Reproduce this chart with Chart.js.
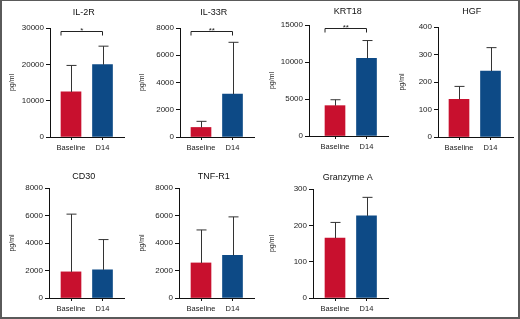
<!DOCTYPE html>
<html>
<head>
<meta charset="utf-8">
<script src="https://cdn.jsdelivr.net/npm/chart.js@4"></script>
<style>
    body { margin: 0; background: #fff; }
    #fig { position: relative; width: 520px; height: 319px; overflow: hidden; background: #fff; }
    #fig canvas { position: absolute; }
    #frame { position: absolute; left: 0; top: 0; width: 520px; height: 319px; box-sizing: border-box;
             border: 2px solid #5a5a5a; border-top-width: 1px; pointer-events: none; }
</style>
</head>
<body>
<div id="fig"><div id="frame"></div></div>
<script>
// ---- data ----
const categories = ['Baseline', 'D14'];
const markers = ['IL-2R', 'IL-33R', 'KRT18', 'HGF', 'CD30', 'TNF-R1', 'Granzyme A'];
const baselineMean = [12400, 700, 4100, 137, 1900, 2550, 165];
const d14Mean = [19900, 3150, 10500, 240, 2050, 3100, 226];
const baselineSd = [7300, 450, 800, 47, 4200, 2400, 43];
const d14Sd = [5100, 3800, 2400, 85, 2200, 2800, 51];
const yMax = [30000, 8000, 15000, 400, 8000, 8000, 300];
const yStep = [10000, 2000, 5000, 100, 2000, 2000, 100];
const signif = ['*', '**', '**', '', '', '', ''];

// panel layout (canvas position + plot box inside the canvas)
const panels = [
    { x: 0,   y: 0,   h: 160, left: 50, right: 124, top: 28, bottom: 137, bar0: 71, titleY: 13 },
    { x: 130, y: 0,   h: 160, left: 50, right: 124, top: 28, bottom: 137, bar0: 71, titleY: 13 },
    { x: 260, y: 0,   h: 160, left: 49, right: 128, top: 25, bottom: 136, bar0: 75, titleY: 12 },
    { x: 390, y: 0,   h: 160, left: 48, right: 123, top: 27, bottom: 137, bar0: 69, titleY: 12 },
    { x: 0,   y: 160, h: 159, left: 49, right: 124, top: 28, bottom: 138, bar0: 71, titleY: 17 },
    { x: 130, y: 160, h: 159, left: 49, right: 124, top: 28, bottom: 138, bar0: 71, titleY: 17 },
    { x: 260, y: 160, h: 159, left: 53, right: 128, top: 29, bottom: 138, bar0: 75, titleY: 18 },
];
const BAR_GAP = 31.5;
const colors = ['#c8102e', '#0d4a86'];
const FONT = "'Liberation Sans', Arial, sans-serif";

Chart.defaults.font.family = FONT;
Chart.defaults.color = '#222';

// whiskers (upper SD only) + significance bracket + panel title
const panelDecor = {
    id: 'panelDecor',
    afterDatasetsDraw(chart, args, opts) {
        const { ctx, chartArea } = chart;
        const y = chart.scales.y;
        const bars = chart.getDatasetMeta(0).data;
        ctx.save();
        ctx.strokeStyle = '#333';
        ctx.lineWidth = 1;
        bars.forEach((bar, i) => {
            const top = y.getPixelForValue(opts.means[i] + opts.sds[i]);
            const x = Math.round(bar.x) + 0.5;
            ctx.beginPath();
            ctx.moveTo(x, bar.y);
            ctx.lineTo(x, top);
            ctx.moveTo(x - 5, top);
            ctx.lineTo(x + 5, top);
            ctx.stroke();
        });

        if (opts.sig) {
            const x0 = bars[0].x - 10, x1 = bars[1].x;
            const yb = Math.round(chartArea.top + 3) + 0.5;
            ctx.strokeStyle = '#222';
            ctx.beginPath();
            ctx.moveTo(x0, yb + 4);
            ctx.lineTo(x0, yb);
            ctx.lineTo(x1, yb);
            ctx.lineTo(x1, yb + 4);
            ctx.stroke();
            ctx.fillStyle = '#222';
            ctx.font = '8px ' + FONT;
            ctx.textAlign = 'center';
            ctx.textBaseline = 'alphabetic';
            ctx.fillText(opts.sig, (x0 + x1) / 2, yb + 1);
        }

        ctx.fillStyle = '#111';
        ctx.font = '9px ' + FONT;
        ctx.textAlign = 'center';
        ctx.textBaseline = 'middle';
        ctx.fillText(opts.title, (bars[0].x + bars[1].x) / 2 - 3, opts.titleY);
        ctx.restore();
    },
};

const fig = document.getElementById('fig');

markers.forEach((name, k) => {
    const p = panels[k];
    const canvas = document.createElement('canvas');
    canvas.width = 130;
    canvas.height = p.h;
    canvas.style.left = p.x + 'px';
    canvas.style.top = p.y + 'px';
    fig.insertBefore(canvas, document.getElementById('frame'));

    const means = [baselineMean[k], d14Mean[k]];
    const sds = [baselineSd[k], d14Sd[k]];
    const xMin = -(p.bar0 - p.left) / BAR_GAP;
    const xMax = 1 + (p.right - (p.bar0 + BAR_GAP)) / BAR_GAP;

    new Chart(canvas.getContext('2d'), {
        type: 'bar',
        data: {
            datasets: [{
                data: means.map((v, i) => ({ x: i, y: v })),
                backgroundColor: colors,
                borderWidth: 0,
                barThickness: 20,
            }],
        },
        options: {
            responsive: false,
            animation: false,
            devicePixelRatio: 1,
            layout: { padding: { left: 0, top: p.top, right: 130 - p.right, bottom: 0 } },
            plugins: {
                legend: { display: false },
                tooltip: { enabled: false },
                panelDecor: { means, sds, sig: signif[k], title: name, titleY: p.titleY },
            },
            scales: {
                x: {
                    type: 'linear',
                    offset: false,
                    min: xMin,
                    max: xMax,
                    afterBuildTicks: (s) => { s.ticks = categories.map((c, i) => ({ value: i })); },
                    afterFit: (s) => { s.height = p.h - p.bottom; },
                    grid: { drawOnChartArea: false, offset: false, tickLength: 3, color: '#111', lineWidth: 1 },
                    border: { display: true, color: '#111', width: 1 },
                    ticks: {
                        callback: (v) => categories[v],
                        font: { size: 7.5 },
                        padding: 3,
                        maxRotation: 0,
                        autoSkip: false,
                        color: '#222',
                    },
                },
                y: {
                    min: 0,
                    max: yMax[k],
                    afterFit: (s) => { s.width = p.left; },
                    grid: { drawOnChartArea: false, tickLength: 4, color: '#111', lineWidth: 1 },
                    border: { display: true, color: '#111', width: 1 },
                    ticks: { stepSize: yStep[k], font: { size: 8 }, padding: 2, color: '#222', callback: (v) => String(v) },
                    title: { display: true, text: 'pg/ml', font: { size: 7 }, padding: { top: 8, bottom: 0 }, color: '#222' },
                },
            },
        },
        plugins: [panelDecor],
    });
});
</script>
</body>
</html>
